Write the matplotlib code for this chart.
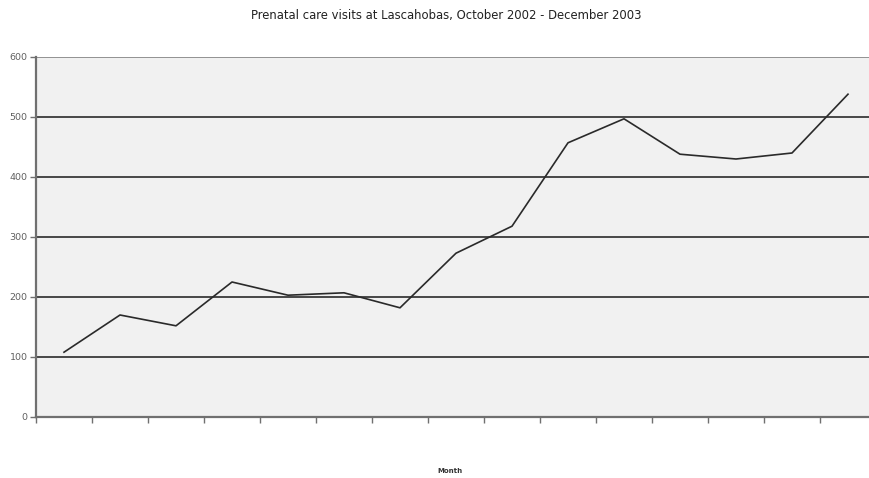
import matplotlib
matplotlib.use("Agg")
import matplotlib.pyplot as plt
import numpy as np

months = ["Oct 2002", "Nov 2002", "Dec 2002", "Jan 2003", "Feb 2003", "Mar 2003",
          "Apr 2003", "May 2003", "Jun 2003", "Jul 2003", "Aug 2003", "Sep 2003",
          "Oct 2003", "Nov 2003", "Dec 2003"]
visits = [108, 170, 152, 225, 203, 207, 182, 273, 318, 457, 497, 438, 430, 440, 538]
y_ticks = [0, 100, 200, 300, 400, 500, 600]

W, H = 869, 478
fig = plt.figure(figsize=(W / 100, H / 100), dpi=100)
left, right = 36, 876
top, bottom = 57, 417
ax = fig.add_axes([left / W, (H - bottom) / H, (right - left) / W, (bottom - top) / H])
ax.set_facecolor("#f1f1f1")

x = np.arange(len(months)) + 0.5
ax.plot(x, visits, color="#2a2a2a", lw=1.2, zorder=3)

ax.set_xlim(0, len(months))
ax.set_ylim(0, 600)
ax.set_yticks(y_ticks)
ax.set_yticklabels([str(v) for v in y_ticks])
ax.set_xticks(np.arange(len(months) + 1))
ax.set_xticklabels([])

for v in y_ticks[1:-1]:
    ax.axhline(v, color="#3a3a3a", lw=1.3, zorder=1)
ax.axhline(600, color="#8a8a8a", lw=1.3, zorder=1)

for s in ["top", "right"]:
    ax.spines[s].set_visible(False)
for s in ["left", "bottom"]:
    ax.spines[s].set_color("#707070")
    ax.spines[s].set_linewidth(1.6)

ax.tick_params(axis="y", direction="out", length=4, width=1, color="#707070",
               labelsize=6.8, labelcolor="#606060", pad=2)
ax.tick_params(axis="x", direction="out", length=4, width=1, color="#707070")

fig.text(446 / W, 1 - 16 / H, "Prenatal care visits at Lascahobas, October 2002 - December 2003",
         ha="center", va="center", fontsize=8.4, color="#222222")
fig.text(450 / W, 1 - 471 / H, "Month", ha="center", va="center",
         fontsize=5, fontweight="bold", color="#333333")

fig.savefig("out.png", dpi=100)
